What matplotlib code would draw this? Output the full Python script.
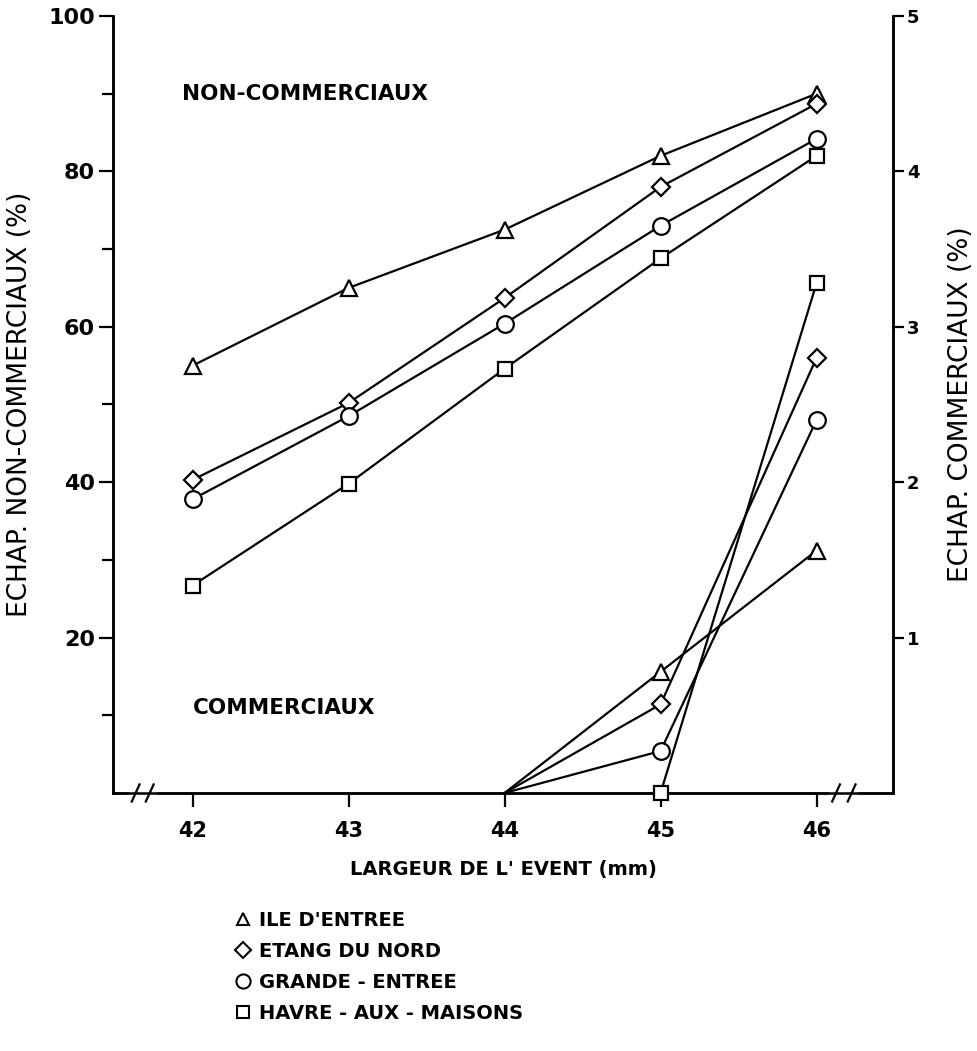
import numpy as np
import matplotlib.pyplot as plt
from matplotlib.lines import Line2D
from matplotlib.transforms import blended_transform_factory

# largeur de l'event (mm)
largeur = [42, 43, 44, 45, 46]

# echappement non-commerciaux (%) - axe gauche
ile_nc = [55, 65, 72.5, 82, 90]
etang_nc = [40.3, 50.2, 63.7, 78, 88.7]
grande_nc = [37.8, 48.5, 60.4, 73, 84.2]
havre_nc = [26.7, 39.8, 54.6, 68.8, 82]

# echappement commerciaux (%) - axe droit
com_x = [44, 45, 46]
ile_c = [0, 0.78, 1.56]
etang_c = [0, 0.57, 2.8]
grande_c = [0, 0.27, 2.4]
havre_x = [45, 46]
havre_c = [0, 3.28]

noms = ["ILE D'ENTREE", "ETANG DU NORD", "GRANDE - ENTREE", "HAVRE - AUX - MAISONS"]
marqueurs = ['^', 'D', 'o', 's']
tailles = [11, 9, 12, 10]

plt.rcParams['font.family'] = ['DejaVu Sans']

fig = plt.figure(figsize=(9.77, 10.51), dpi=100)
ax = fig.add_axes([0.1157, 0.2455, 0.7983, 0.7393])
ax2 = ax.twinx()

lw = 1.6
for y, m, s in zip([ile_nc, etang_nc, grande_nc, havre_nc], marqueurs, tailles):
    ax.plot(largeur, y, color='black', lw=lw, marker=m, ms=s, mfc='white',
            mec='black', mew=1.6, zorder=3)

for y, m, s in zip([ile_c, etang_c, grande_c], marqueurs[:3], tailles[:3]):
    ax2.plot(com_x, y, color='black', lw=lw, marker=m, ms=s, mfc='white',
             mec='black', mew=1.6, markevery=[1, 2], zorder=3)
ax2.plot(havre_x, havre_c, color='black', lw=lw, marker='s', ms=10, mfc='white',
         mec='black', mew=1.6, zorder=3, clip_on=False)

ax.set_xlim(41.49, 46.49)
ax.set_ylim(0, 100)
ax2.set_ylim(0, 5)

ax.set_xticks(largeur)
ax.set_xticklabels([str(v) for v in largeur], fontsize=15, fontweight='bold')
ax.set_yticks([20, 40, 60, 80, 100])
ax.set_yticklabels(['20', '40', '60', '80', '100'], fontsize=16, fontweight='bold')
ax.set_yticks([10, 30, 50, 70, 90], minor=True)
ax2.set_yticks([1, 2, 3, 4, 5])
ax2.set_yticklabels(['1', '2', '3', '4', '5'], fontsize=13, fontweight='bold')

ax.tick_params(axis='x', direction='out', length=10, width=1.6, pad=10)
ax.tick_params(axis='y', which='major', direction='out', length=10, width=1.6, pad=3)
ax.tick_params(axis='y', which='minor', direction='out', length=8, width=1.6)
ax2.tick_params(axis='y', direction='out', length=8, width=1.6, pad=2)

for a in (ax, ax2):
    a.spines['top'].set_visible(False)
    for sp in ('left', 'right', 'bottom'):
        a.spines[sp].set_linewidth(1.8)

ax.set_ylabel("ECHAP. NON-COMMERCIAUX (%)", fontsize=19)
ax.yaxis.set_label_coords(-0.102, 0.5)
ax2.set_ylabel("ECHAP. COMMERCIAUX (%)", fontsize=19)
ax2.yaxis.set_label_coords(1.071, 0.5)
ax.set_xlabel("LARGEUR DE L' EVENT (mm)", fontsize=14, fontweight='bold', labelpad=14)

ax.text(41.93, 90, "NON-COMMERCIAUX", fontsize=15.5, fontweight='bold', ha='left', va='center')
ax.text(42.0, 11, "COMMERCIAUX", fontsize=15.5, fontweight='bold', ha='left', va='center')

# coupures de l'axe des x
tr = blended_transform_factory(ax.transData, ax.transAxes)
for x0, x1 in [(41.61, 41.75), (46.10, 46.25)]:
    ax.plot([x0, x1], [0, 0], color='white', lw=4, transform=tr, clip_on=False, zorder=5)
    for xs in (x0, x1 - 0.05):
        ax.plot([xs, xs + 0.05], [-0.011, 0.011], color='black', lw=1.6,
                transform=tr, clip_on=False, zorder=6)

handles = [Line2D([], [], ls='none', marker=m, ms=s * 0.85, mfc='white', mec='black', mew=1.5)
           for m, s in zip(marqueurs, tailles)]
fig.legend(handles, noms, loc='upper left', bbox_to_anchor=(0.225, 0.15), frameon=False,
           handlelength=0.6, handletextpad=0.5, labelspacing=0.62,
           prop={'size': 14, 'weight': 'bold'})

fig.savefig('out.png', dpi=100)
